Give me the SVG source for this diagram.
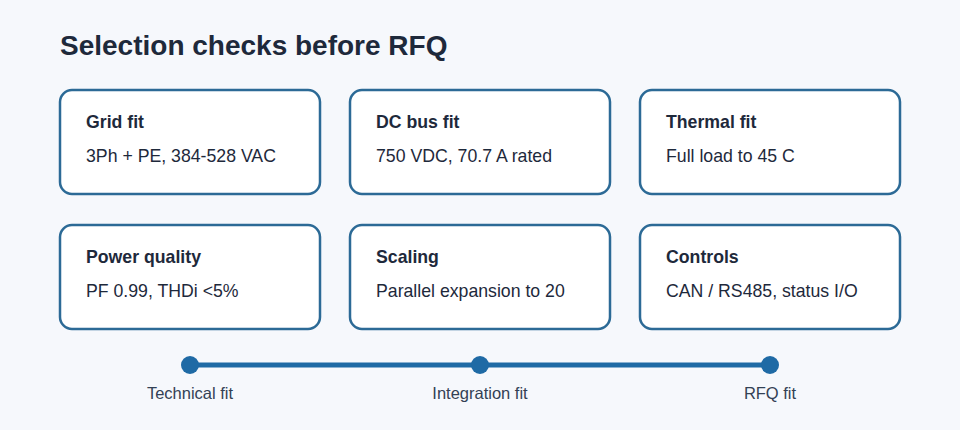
<svg xmlns="http://www.w3.org/2000/svg" width="960" height="430" viewBox="0 0 960 430">
<style>
text{font-family:"Liberation Sans",Arial,sans-serif}
.box{fill:#fff;stroke:#2c6a96;stroke-width:2.5}
.h{font-size:17.7px;font-weight:700;fill:#1e293b}
.b{font-size:17.7px;fill:#1e293b}
.t{font-size:16.5px;fill:#334155;text-anchor:middle}
.dot{fill:#1f6aa5}
</style>
<rect width="960" height="430" fill="#f6f8fc"/>
<text x="60" y="55" font-size="28" font-weight="700" fill="#1e293b">Selection checks before RFQ</text>
<g id="grid"><rect class="box" x="60" y="90" width="260" height="104" rx="12"/><text class="h" x="86" y="128">Grid fit</text><text class="b" x="86" y="162">3Ph + PE, 384-528 VAC</text></g>
<g id="dcbus"><rect class="box" x="350" y="90" width="260" height="104" rx="12"/><text class="h" x="376" y="128">DC bus fit</text><text class="b" x="376" y="162">750 VDC, 70.7 A rated</text></g>
<g id="thermal"><rect class="box" x="640" y="90" width="260" height="104" rx="12"/><text class="h" x="666" y="128">Thermal fit</text><text class="b" x="666" y="162">Full load to 45 C</text></g>
<g id="power"><rect class="box" x="60" y="225" width="260" height="104" rx="12"/><text class="h" x="86" y="263">Power quality</text><text class="b" x="86" y="297">PF 0.99, THDi &lt;5%</text></g>
<g id="scaling"><rect class="box" x="350" y="225" width="260" height="104" rx="12"/><text class="h" x="376" y="263">Scaling</text><text class="b" x="376" y="297">Parallel expansion to 20</text></g>
<g id="controls"><rect class="box" x="640" y="225" width="260" height="104" rx="12"/><text class="h" x="666" y="263">Controls</text><text class="b" x="666" y="297">CAN / RS485, status I/O</text></g>
<g id="connectors"><line x1="190" y1="365" x2="770" y2="365" stroke="#1f6aa5" stroke-width="5"/></g>
<g id="tech"><circle class="dot" cx="190" cy="365" r="9"/><text class="t" x="190" y="399">Technical fit</text></g>
<g id="integ"><circle class="dot" cx="480" cy="365" r="9"/><text class="t" x="480" y="399">Integration fit</text></g>
<g id="rfq"><circle class="dot" cx="770" cy="365" r="9"/><text class="t" x="770" y="399">RFQ fit</text></g>
</svg>
